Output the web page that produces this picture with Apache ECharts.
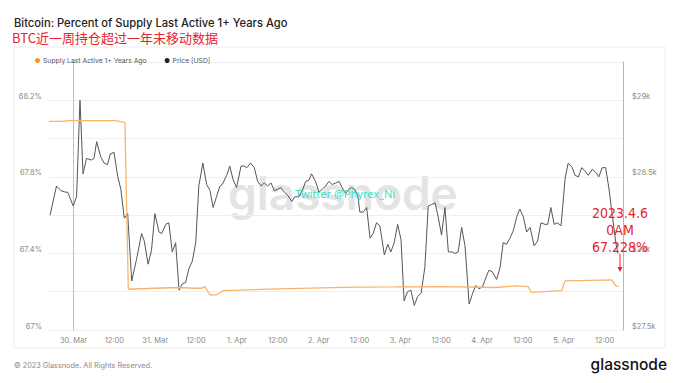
<!DOCTYPE html>
<html><head><meta charset="utf-8">
<script src="https://cdn.jsdelivr.net/npm/echarts@6/dist/echarts.min.js"></script>
<style>html,body{margin:0;padding:0;background:#fff}#c{width:680px;height:383px}</style>
</head><body><div id="c"></div>
<script>
// hours relative to 30 Mar 2023 00:00
const priceHours = [-6.9,-5.0,-3.7,-2.3,-1.7,-0.1,0.9,1.9,2.8,3.8,5.3,6.0,6.8,8.0,9.0,10.0,10.8,11.9,13.0,13.9,14.9,15.9,17.1,18.5,20.0,20.8,21.9,22.9,23.9,25.1,25.9,27.1,28.0,29.0,30.0,31.0,31.9,32.9,33.9,34.9,35.9,36.8,38.0,39.1,40.1,41.0,42.0,43.0,43.7,45.0,45.9,46.9,47.9,49.2,50.1,50.9,52.0,53.1,54.1,55.1,56.0,57.0,58.0,59.0,60.0,60.9,61.9,62.9,64.1,65.0,66.2,67.2,68.2,69.2,69.9,71.1,72.1,73.1,74.1,75.0,76.0,77.0,78.0,78.9,79.9,80.9,81.7,82.5,83.5,84.1,85.1,86.1,87.1,88.0,89.0,90.0,91.3,92.3,93.2,94.2,95.2,96.2,97.1,98.1,99.1,100.1,101.1,102.1,103.2,104.2,105.2,106.2,107.1,108.1,109.1,110.1,111.1,112.0,113.0,114.0,115.0,116.2,117.1,118.1,119.1,120.1,121.1,122.0,123.0,124.3,125.3,126.2,127.2,128.2,129.2,130.2,131.1,132.1,133.1,134.1,135.3,136.3,137.3,138.5,139.3,140.2,141.2,142.2,143.2,144.4,145.3,146.5,147.3,148.3,149.3,150.2,151.2,152.4,153.4,154.3,155.3,156.3,157.3,158.3,159.3,159.9];
const priceValues = [28250,28440,28410,28400,28400,28310,28370,29000,28520,28620,28610,28620,28730,28630,28590,28580,28650,28660,28500,28420,28230,28260,27820,27960,28130,28080,27930,28020,28260,28140,28130,28190,28200,28010,28070,27760,27800,27810,27900,27950,28070,28440,28590,28450,28410,28300,28370,28440,28450,28510,28570,28480,28430,28570,28570,28560,28590,28560,28470,28440,28460,28440,28460,28410,28420,28430,28400,28380,28340,28370,28370,28410,28470,28480,28520,28470,28400,28420,28440,28470,28450,28460,28470,28430,28390,28420,28430,28420,28380,28270,28270,28300,28100,28130,28200,28180,27990,28060,28010,28070,28190,28090,27690,27750,27760,27660,27720,27740,27910,28310,28320,28330,28240,28120,28300,28010,28010,28000,28010,28170,28050,27670,27730,27790,27770,27780,27840,27890,27880,27830,27910,28070,28060,28100,28150,28240,28290,28240,28140,28170,28050,28080,28200,28190,28190,28300,28190,28200,28180,28490,28590,28560,28510,28500,28560,28540,28510,28550,28530,28500,28560,28560,28420,28240,28070,28000];
const supplyHours = [-7.2,-4.0,-1.1,12.2,14.2,15.1,16.1,23.9,30.7,35.7,37.6,38.6,40.1,42.0,44.0,60.0,82.7,94.4,109.1,123.8,130.0,133.5,134.4,143.4,144.4,158.1,159.3,160.2];
const supplyValues = [68.09,68.09,68.094,68.094,68.087,68.085,67.213,67.218,67.222,67.218,67.218,67.227,67.183,67.183,67.206,67.215,67.224,67.225,67.227,67.222,67.230,67.227,67.197,67.206,67.257,67.262,67.230,67.228];
const xTickHours = [0,12,24,36,48,60,72,84,96,108,120,132,144,156];
const xTickLabels = ['30. Mar','12:00','31. Mar','12:00','1. Apr','12:00','2. Apr','12:00','3. Apr','12:00','4. Apr','12:00','5. Apr','12:00'];
const seriesNames = ['Supply Last Active 1+ Years Ago','Price [USD]'];

const zip = (a,b)=>a.map((v,i)=>[v,b[i]]);
const chart = echarts.init(document.getElementById('c'), null, {renderer:'svg'});
const lblFont = {fontFamily:'Inter', fontSize:7.5, color:'#8a8a8a'};
chart.setOption({
  animation:false,
  backgroundColor:'#fff',
  grid:{left:49,right:57,top:62,bottom:53},
  legend:{
    left:30, top:52, itemWidth:5, itemHeight:5, itemGap:18, icon:'circle',
    textStyle:{fontFamily:'Inter', fontSize:6.8, color:'#555', padding:[0,0,0,-2]},
    data:[{name:seriesNames[0], itemStyle:{color:'#f7931a'}},{name:seriesNames[1], itemStyle:{color:'#222'}}]
  },
  xAxis:{
    type:'value', min:-7.2, max:161.4,
    axisLine:{show:false}, axisTick:{show:false}, splitLine:{show:false},
    axisLabel:{...lblFont, margin:6, customValues:xTickHours,
      formatter:(v)=>{const i=xTickHours.indexOf(Math.round(v));return i>=0?xTickLabels[i]:'';}}
  },
  yAxis:[
    {type:'value', min:67, max:68.4, interval:0.2, position:'left',
     axisLine:{show:true, lineStyle:{color:'#f6b46e', width:1}}, axisTick:{show:false},
     splitLine:{lineStyle:{color:'#efefef', width:1}},
     axisLabel:{...lblFont, margin:7, verticalAlign:'bottom',
       formatter:(v)=>{const k=Math.round((v-67)*10);return k%4===0?(+v.toFixed(1))+'%':'';}}},
    {type:'value', min:27500, max:29250, interval:250, position:'right',
     axisLine:{show:true, lineStyle:{color:'#b5b5b5', width:1}}, axisTick:{show:false},
     splitLine:{show:false},
     axisLabel:{...lblFont, margin:9, verticalAlign:'bottom',
       formatter:(v)=>{const k=Math.round((v-27500)/250);return k%2===0?'$'+(v/1000)+'k':'';}}}
  ],
  series:[
    {name:seriesNames[0], type:'line', yAxisIndex:0, data:zip(supplyHours,supplyValues), showSymbol:false, symbol:'none',
     lineStyle:{color:'#f7b46a', width:1.3}, itemStyle:{color:'#f7931a'}, z:3},
    {name:seriesNames[1], type:'line', yAxisIndex:1, data:zip(priceHours,priceValues), showSymbol:false, symbol:'none',
     lineStyle:{color:'#555', width:1}, itemStyle:{color:'#222'}, z:2}
  ],
  graphic:[
    {type:'rect', z:-10, shape:{x:14,y:47,width:651,height:301}, style:{fill:'none', stroke:'#ececec', lineWidth:1}},
    {type:'text', z:-5, left:228, top:170, style:{text:'glassnode', font:'600 46px Inter', fill:'#e4e4e4'}},
    {type:'text', z:10, left:295, top:188, style:{text:'Twitter @Phyrex_Ni', font:'11px "Noto Sans"', fill:'#42e0c6'}},
    {type:'text', left:14, top:17, style:{text:'Bitcoin: Percent of Supply Last Active 1+ Years Ago', font:'500 11.2px Inter', fill:'#222'}},
    {type:'text', left:12, top:31, style:{text:'BTC近一周持仓超过一年未移动数据', font:'13px "Noto Sans CJK SC"', fill:'#e8232a'}},
    {type:'text', left:14, top:362, style:{text:'© 2023 Glassnode. All Rights Reserved.', font:'7.3px Inter', fill:'#8a8a8a'}},
    {type:'text', right:13, top:356, style:{text:'glassnode', font:'500 15.5px Inter', fill:'#111'}},
    {type:'text', z:20, x:620, y:204, style:{text:'2023.4.6\n0AM\n67.228%', font:'14px "Liberation Sans Narrow", "DejaVu Sans Condensed", sans-serif', fill:'#e8232a', align:'center', lineHeight:17}},
    {type:'line', z:20, shape:{x1:620,y1:254,x2:620,y2:268}, style:{stroke:'#e8232a', lineWidth:1}},
    {type:'polygon', z:20, shape:{points:[[617.5,267],[622.5,267],[620,272]]}, style:{fill:'#e8232a'}}
  ]
});
</script></body></html>
